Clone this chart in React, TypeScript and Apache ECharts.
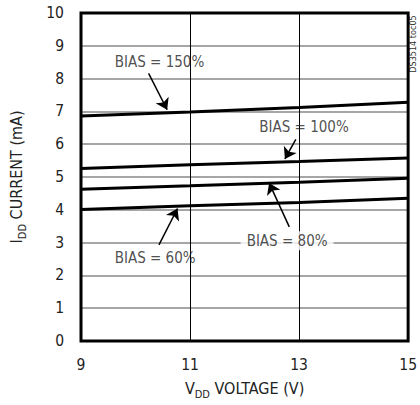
import React, { useEffect, useRef } from "react";
import * as echarts from "echarts";

const FONT = "'Liberation Sans Narrow', 'DejaVu Sans Condensed', 'Liberation Sans', sans-serif";

const voltages = [9, 11, 13, 15];
const bias150 = [6.86, 6.98, 7.12, 7.28];
const bias100 = [5.26, 5.37, 5.47, 5.58];
const bias80 = [4.63, 4.73, 4.84, 4.96];
const bias60 = [4.01, 4.12, 4.22, 4.35];

const annoLabels = ["BIAS = 150%", "BIAS = 100%", "BIAS = 80%", "BIAS = 60%"];
const annoTextPos = [
  [10.44, 8.51],
  [13.09, 6.52],
  [12.78, 3.06],
  [10.36, 2.52],
];
const annoArrows = [
  [[10.24, 8.16], [10.58, 7.05]],
  [[12.94, 6.15], [12.74, 5.55]],
  [[12.82, 3.48], [12.45, 4.82]],
  [[10.43, 2.93], [10.77, 4.04]],
];

export default function App() {
  const ref = useRef<HTMLDivElement>(null);
  useEffect(() => {
    document.body.style.margin = "0";
    const chart = echarts.init(ref.current!, null, { renderer: "svg" });
    const mk = (vals: number[]) => ({
      type: "line",
      data: voltages.map((v, i) => [v, vals[i]]),
      symbol: "none",
      lineStyle: { color: "#000", width: 3 },
      z: 5,
    });
    const richMain = { fontSize: 16, lineHeight: 24, fontFamily: FONT, color: "#222" };
    const richSub = { fontSize: 11, lineHeight: 12, fontFamily: FONT, color: "#222", verticalAlign: "bottom" };
    chart.setOption({
      animation: false,
      grid: {
        left: 81,
        right: 10,
        top: 13,
        bottom: 64,
        show: true,
        borderColor: "#000",
        borderWidth: 3,
        z: 10,
      },
      xAxis: {
        type: "value",
        min: 9,
        max: 15,
        interval: 2,
        axisLine: { show: false },
        axisTick: { show: false },
        axisLabel: { fontSize: 15.5, fontFamily: FONT, color: "#222", margin: 16 },
        splitLine: { show: true, lineStyle: { color: "#000", width: 1 } },
        name: "{m|V}{s|DD}{m| VOLTAGE (V)}",
        nameLocation: "middle",
        nameGap: 35,
        nameTextStyle: { rich: { m: richMain, s: richSub } },
      },
      yAxis: {
        type: "value",
        min: 0,
        max: 10,
        interval: 1,
        axisLine: { show: false },
        axisTick: { show: false },
        axisLabel: { fontSize: 15.5, fontFamily: FONT, color: "#222", margin: 17 },
        splitLine: { show: true, lineStyle: { color: "#888", width: 1.5 } },
        name: "{m|I}{s|DD}{m| CURRENT (mA)}",
        nameLocation: "middle",
        nameGap: 53,
        nameTextStyle: { rich: { m: richMain, s: richSub } },
      },
      series: [
        mk(bias150),
        mk(bias100),
        mk(bias80),
        mk(bias60),
        {
          type: "lines",
          coordinateSystem: "cartesian2d",
          data: annoArrows.map((c) => ({ coords: c })),
          symbol: ["none", "arrow"],
          symbolSize: 11,
          lineStyle: { color: "#000", width: 1.5, opacity: 1, curveness: 0 },
          z: 6,
        },
        {
          type: "scatter",
          symbolSize: 0,
          data: annoTextPos.map((p, i) => ({
            value: p,
            label: {
              show: true,
              formatter: annoLabels[i],
              position: "inside",
              fontSize: 15,
              fontFamily: FONT,
              color: "#222",
              backgroundColor: i === 2 ? "#fff" : "transparent",
              padding: i === 2 ? [2, 6] : 0,
            },
          })),
          z: 7,
        },
      ],
      graphic: [
        {
          type: "text",
          x: 413,
          y: 44,
          rotation: Math.PI / 2,
          style: {
            text: "DS3514 toc05",
            fontSize: 9,
            fontFamily: FONT,
            fill: "#333",
            align: "center",
            verticalAlign: "middle",
          },
        },
      ],
    });
    return () => chart.dispose();
  }, []);
  return <div ref={ref} style={{ width: 420, height: 405 }} />;
}
